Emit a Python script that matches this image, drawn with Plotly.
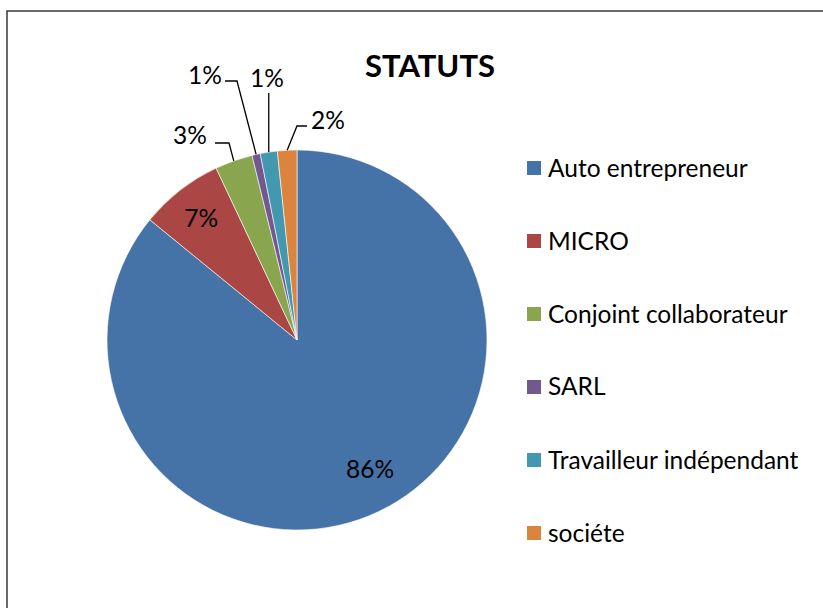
import math
import plotly.graph_objects as go

# ---- data ----
categories = ["Auto entrepreneur", "MICRO", "Conjoint collaborateur", "SARL",
              "Travailleur indépendant", "sociéte"]
values = [85.9, 7.1, 3.2, 0.7, 1.45, 1.65]
colors = ["#4572A7", "#AA4643", "#89A54E", "#71588F", "#4198AF", "#DB843D"]
title_text = "STATUTS"

W, H = 823, 608
FONT = "Lato"
FS = 24.5

# pie geometry (pixels)
CX, CY, R = 297, 340, 190


def px(x):
    return x / W


def py(y):
    return 1 - y / H


total = sum(values)
pcts = [v / total for v in values]

textpos = ["none", "inside", "none", "none", "none", "none"]

fig = go.Figure()
fig.add_trace(go.Pie(
    labels=categories, values=values, sort=False, direction="clockwise",
    rotation=0,
    marker=dict(colors=colors, line=dict(color="white", width=0.6)),
    textposition=textpos, texttemplate="%{percent:.0%}",
    insidetextorientation="horizontal",
    textfont=dict(family=FONT, size=FS, color="black"),
    showlegend=False, hoverinfo="label+percent",
    domain=dict(x=[px(CX - R), px(CX + R)], y=[py(CY + R), py(CY - R)]),
))

# angle (clockwise from top, degrees) of each slice's middle
cum = 0
mids = []
for p in pcts:
    mids.append((cum + p / 2) * 360)
    cum += p

shapes = []
annotations = []

# big slice label
annotations.append(dict(
    x=px(370), y=py(468), xref="paper", yref="paper",
    xanchor="center", yanchor="middle",
    text=f"{round(pcts[0] * 100)}%", showarrow=False,
    font=dict(family=FONT, size=FS, color="black")))

# outside labels: label pixel pos, leader start, elbow
outside = {
    2: ((190, 134), (215, 143), (229, 143)),
    3: ((205, 74), (225, 81), (237, 81)),
    4: ((267, 78), None, None),
    5: ((328, 119), (307, 126), (297, 126)),
}
for i, (lab, start, elbow) in outside.items():
    a = math.radians(mids[i])
    ex = CX + R * math.sin(a)
    ey = CY - R * math.cos(a)
    annotations.append(dict(
        x=px(lab[0]), y=py(lab[1]), xref="paper", yref="paper",
        xanchor="center", yanchor="middle",
        text=f"{round(pcts[i] * 100)}%", showarrow=False,
        font=dict(family=FONT, size=FS, color="black")))
    if start is None:
        start = (ex, 93)
        elbow = start
    pts = [start, elbow, (ex, ey)]
    path = "M " + " L ".join(f"{px(x):.5f},{py(y):.5f}" for x, y in pts)
    shapes.append(dict(type="path", path=path, xref="paper", yref="paper",
                       line=dict(color="black", width=1.3)))

# title
annotations.append(dict(x=px(430), y=py(65), xref="paper", yref="paper",
                        xanchor="center", yanchor="middle",
                        text=f"<b>{title_text}</b>", showarrow=False,
                        font=dict(family=FONT, size=31, color="black")))

# legend (manual, to match the reference spacing)
for i, (c, col) in enumerate(zip(categories, colors)):
    yc = 168 + i * 73
    shapes.append(dict(type="rect", xref="paper", yref="paper",
                       x0=px(527), x1=px(541), y0=py(yc + 7), y1=py(yc - 7),
                       fillcolor=col, line=dict(width=0)))
    annotations.append(dict(x=px(546), y=py(yc - 1), xref="paper", yref="paper",
                            xanchor="left", yanchor="middle", text=c,
                            showarrow=False,
                            font=dict(family=FONT, size=FS, color="black")))

# chart border
shapes.append(dict(type="path", xref="paper", yref="paper",
                   path=f"M {px(7)},{py(H + 5)} L {px(7)},{py(11)} L {px(W + 5)},{py(11)}",
                   line=dict(color="#3a3a3a", width=1.5)))

fig.update_layout(
    width=W, height=H, margin=dict(l=0, r=0, t=0, b=0),
    paper_bgcolor="white", plot_bgcolor="white",
    shapes=shapes, annotations=annotations,
    font=dict(family=FONT),
)
fig.write_html("out.html", config={"displayModeBar": False},
               post_script="document.body.style.margin='0';document.body.style.overflow='hidden';")
